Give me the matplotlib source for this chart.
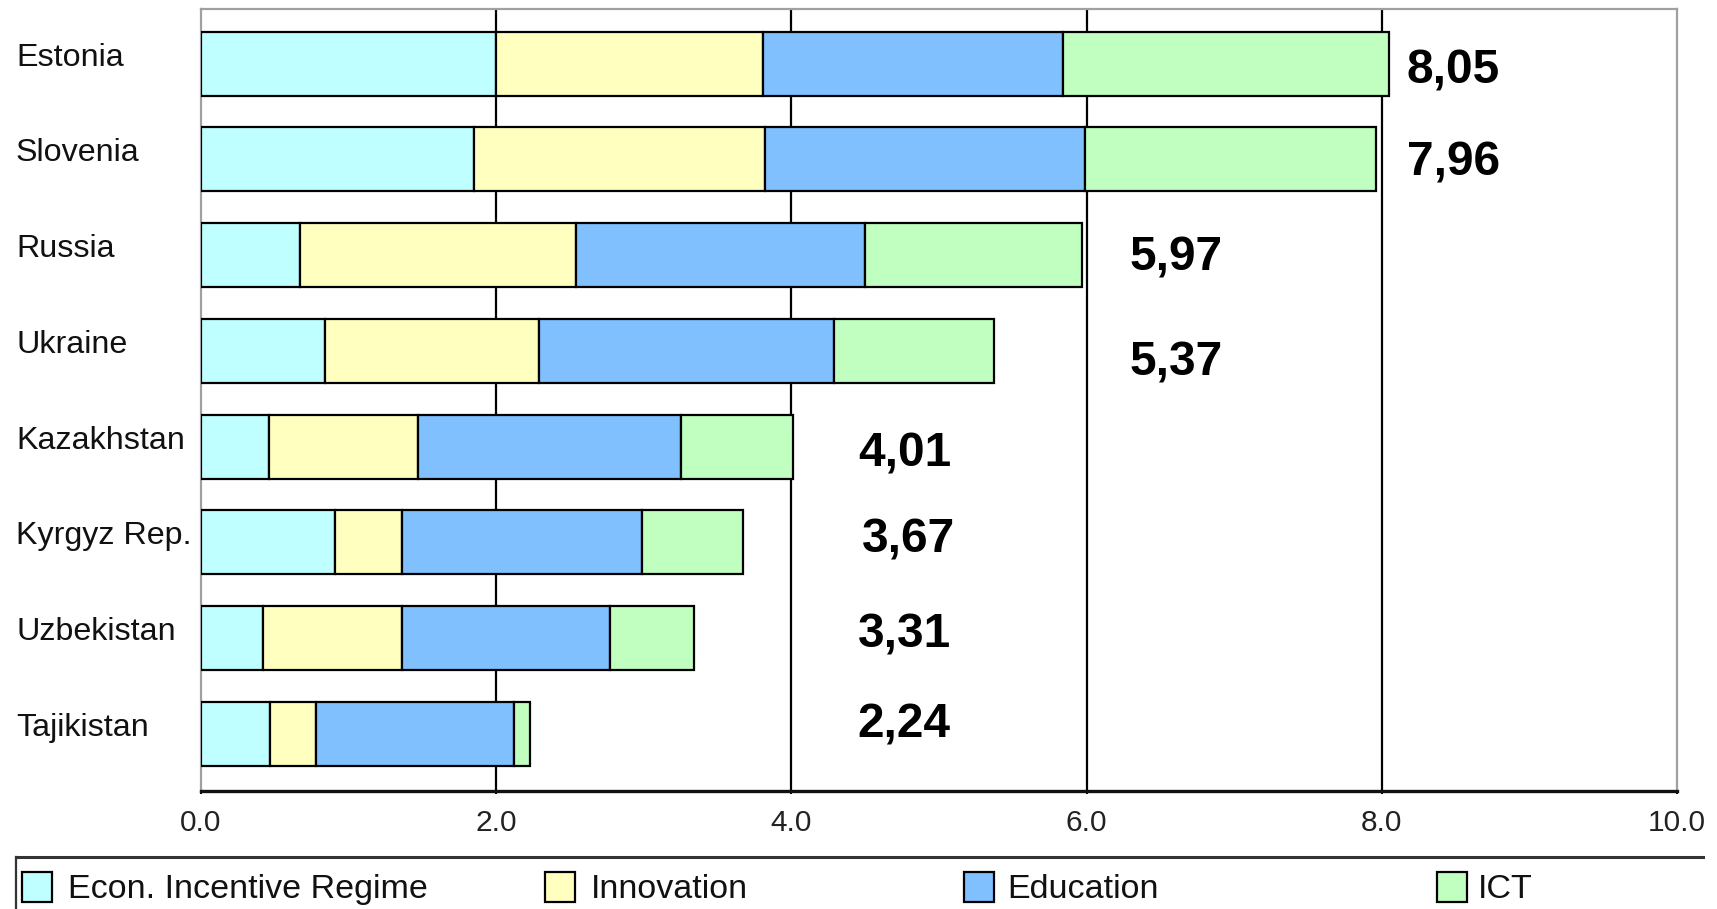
import matplotlib
matplotlib.use("Agg")
import matplotlib.pyplot as plt
import matplotlib.transforms as mtransforms
from matplotlib.patches import Rectangle
from matplotlib.lines import Line2D
import numpy as np

# ---- data ----
countries = ["Estonia", "Slovenia", "Russia", "Ukraine", "Kazakhstan",
             "Kyrgyz Rep.", "Uzbekistan", "Tajikistan"]
series_names = ["Econ. Incentive Regime", "Innovation", "Education", "ICT"]
econ = [2.00, 1.85, 0.67, 0.84, 0.46, 0.91, 0.42, 0.47]
innovation = [1.81, 1.97, 1.87, 1.45, 1.01, 0.45, 0.94, 0.31]
education = [2.03, 2.17, 1.96, 2.00, 1.78, 1.63, 1.41, 1.34]
ict = [2.21, 1.97, 1.47, 1.08, 0.76, 0.68, 0.57, 0.11]
totals = [8.05, 7.96, 5.97, 5.37, 4.01, 3.67, 3.31, 2.24]
xticks = [0.0, 2.0, 4.0, 6.0, 8.0, 10.0]
xtick_labels = ["0.0", "2.0", "4.0", "6.0", "8.0", "10.0"]

# ---- style ----
colors = ["#C0FFFF", "#FFFFC0", "#80C0FF", "#C0FFC0"]
label_x = [8.17, 8.17, 6.29, 6.29, 4.45, 4.48, 4.45, 4.45]      # value label x (data)
label_dy = [0.207, 0.164, 0.156, 0.252, 0.209, 0.110, 0.101, 0.041]  # baseline offset

W, H = 1717, 909
fig = plt.figure(figsize=(W / 100, H / 100), dpi=100)
fig.patch.set_facecolor("white")
ax = fig.add_axes([201 / W, 1 - 791 / H, (1677 - 201) / W, (791 - 8.5) / H])

series = [econ, innovation, education, ict]
y = np.arange(len(countries))
left = np.zeros(len(countries))
for vals, col, name in zip(series, colors, series_names):
    ax.barh(y, vals, left=left, height=0.669, color=col, edgecolor="black",
            linewidth=1.6, zorder=3, label=name)
    left = left + np.array(vals)

ax.set_xlim(0, 10)
ax.set_ylim(7.598, -0.577)
ax.set_yticks([])
ax.set_xticks(xticks)
ax.set_xticklabels(xtick_labels, fontfamily="Liberation Sans", fontsize=21.5,
                   color="#222222")
ax.tick_params(axis="x", length=2.2, width=1.5, direction="out", pad=11,
               color="black")
for xv in xticks[1:-1]:
    ax.axvline(xv, color="black", linewidth=1.6, zorder=1)

for side in ["left", "top", "right"]:
    ax.spines[side].set_color("#A0A0A0")
    ax.spines[side].set_linewidth(1.6)
ax.spines["bottom"].set_color("#111111")
ax.spines["bottom"].set_linewidth(2.4)

# country labels
trans = mtransforms.blended_transform_factory(fig.transFigure, ax.transData)
for i, c in enumerate(countries):
    ax.text(16 / W, i + 0.02, c, transform=trans, ha="left", va="baseline",
            fontfamily="Liberation Sans", fontsize=23.2, color="#111111",
            clip_on=False)

# value labels
for i, t in enumerate(totals):
    ax.text(label_x[i], i + label_dy[i], f"{t:.2f}".replace(".", ","),
            ha="left", va="baseline", fontfamily="Liberation Sans",
            fontweight="bold", fontsize=34.5, color="black", zorder=5)

# legend (manual box with top/left edges)
fig.add_artist(Line2D([16 / W, 1703 / W], [1 - 857 / H, 1 - 857 / H],
                      transform=fig.transFigure, color="#333333", linewidth=2.2))
fig.add_artist(Line2D([16 / W, 16 / W], [1 - 857 / H, 0],
                      transform=fig.transFigure, color="#333333", linewidth=1.6))
marker_x = [22, 545, 964, 1437]
text_x = [68, 591, 1007, 1478]
for mx, tx, col, name in zip(marker_x, text_x, colors, series_names):
    fig.add_artist(Rectangle((mx / W, 1 - 902 / H), 30 / W, 30 / H,
                             transform=fig.transFigure, facecolor=col,
                             edgecolor="black", linewidth=1.6))
    fig.text(tx / W, 1 - 898 / H, name, ha="left", va="baseline",
             fontfamily="Liberation Sans", fontsize=24.5, color="#111111")

fig.savefig("out.png", dpi=100, facecolor="white")
